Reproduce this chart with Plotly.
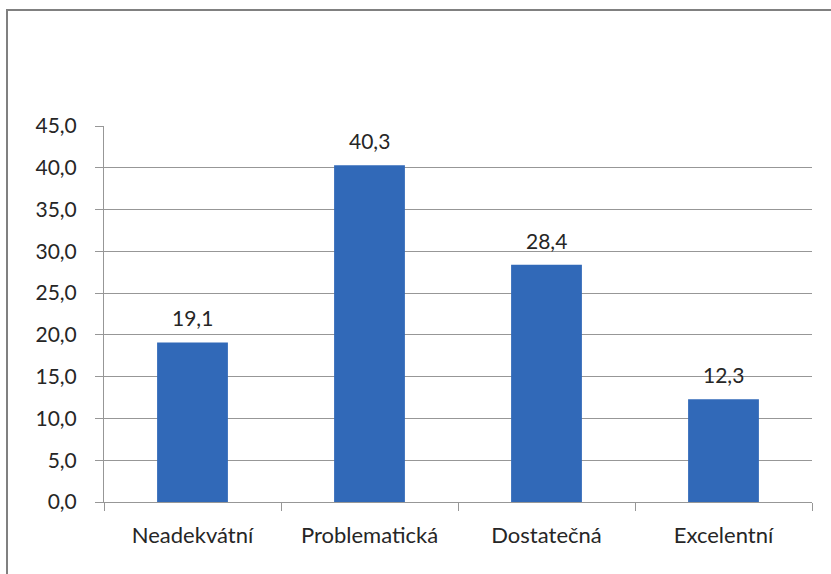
import plotly.graph_objects as go

# Share of respondents by rating category (%)
categories = ["Neadekvátní", "Problematická", "Dostatečná", "Excelentní"]
values = [19.1, 40.3, 28.4, 12.3]

y_ticks = [0, 5, 10, 15, 20, 25, 30, 35, 40, 45]

W, H = 831, 574
M_L, M_R, M_T, M_B = 104, 19, 126, 72
plot_w = W - M_L - M_R
plot_h = H - M_T - M_B

grid_col = "#979797"
font_main = "Lato, Carlito, Calibri, sans-serif"

fig = go.Figure(
    go.Bar(
        x=categories,
        y=values,
        marker=dict(color="#3169b8", line=dict(width=0)),
        width=0.4,
        hoverinfo="x+y",
    )
)

# value labels above each bar
for cat, val in zip(categories, values):
    fig.add_annotation(
        x=cat, y=val,
        text=f"{val:.1f}".replace(".", ","),
        showarrow=False,
        yanchor="bottom",
        yshift=10,
        font=dict(family=font_main, size=21, color="#262626"),
    )

# frame around the chart (top and left edges)
bx0 = (7 - M_L) / plot_w
by_top = (H - M_B - 10) / plot_h
bx1 = (W + 5 - M_L) / plot_w
by_bot = (H - M_B - H - 5) / plot_h
fig.add_shape(
    type="path",
    xref="paper", yref="paper",
    path=f"M {bx1} {by_top} L {bx0} {by_top} L {bx0} {by_bot}",
    line=dict(color="#808080", width=2),
)

fig.update_layout(
    width=W,
    height=H,
    margin=dict(l=M_L, r=M_R, t=M_T, b=M_B),
    paper_bgcolor="white",
    plot_bgcolor="white",
    separators=", ",
    showlegend=False,
    font=dict(family=font_main, size=21, color="#404040"),
    bargap=0.6,
)

fig.update_xaxes(
    showline=True,
    linecolor=grid_col,
    linewidth=1,
    ticks="outside",
    tickson="boundaries",
    ticklen=8,
    tickcolor=grid_col,
    showgrid=False,
    tickfont=dict(family=font_main, size=22, color="#262626"),
    ticklabelstandoff=14,
)

fig.update_yaxes(
    range=[0, 45],
    tickvals=y_ticks,
    tickformat=".1f",
    showline=True,
    linecolor=grid_col,
    linewidth=1,
    ticks="outside",
    ticklen=8,
    tickcolor=grid_col,
    showgrid=True,
    gridcolor=grid_col,
    gridwidth=1,
    zeroline=False,
    tickfont=dict(family=font_main, size=21, color="#262626"),
    ticklabelstandoff=14,
)

fig.write_html("out.html")
